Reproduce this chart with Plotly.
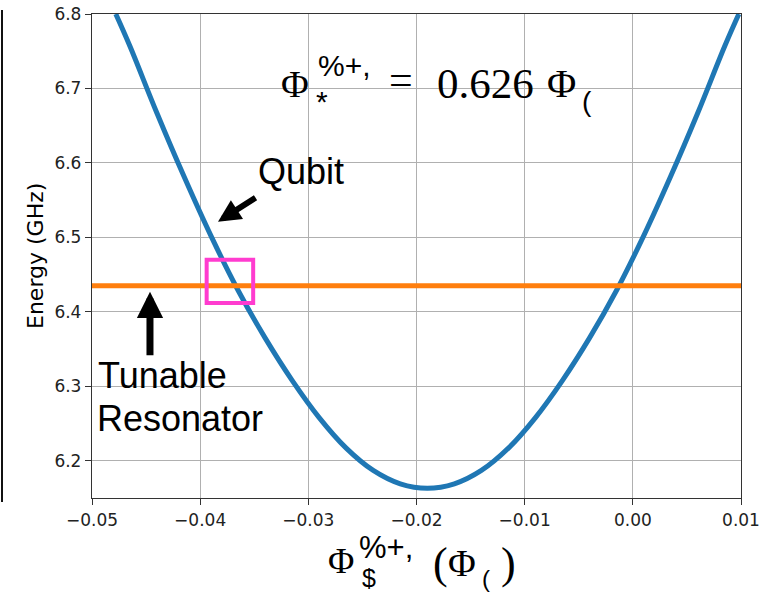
import plotly.graph_objects as go

# ---- data ----
flux = [-0.0478, -0.0465, -0.0440, -0.0415, -0.0390, -0.0365, -0.0340, -0.0315, -0.0290,
        -0.0265, -0.0240, -0.0215, -0.0190, -0.0165, -0.0140, -0.0115, -0.0090, -0.0065,
        -0.0040, -0.0015, 0.0010, 0.0035, 0.0060, 0.0085, 0.0098]
qubit_energy = [6.800, 6.757, 6.667, 6.582, 6.502, 6.429, 6.365, 6.308, 6.258,
                6.217, 6.187, 6.169, 6.163, 6.169, 6.187, 6.217, 6.258, 6.308,
                6.365, 6.429, 6.502, 6.582, 6.667, 6.757, 6.800]
resonator_flux = [-0.05, 0.01]
resonator_energy = [6.435, 6.435]
x_ticks = [-0.05, -0.04, -0.03, -0.02, -0.01, 0.00, 0.01]
y_ticks = [6.2, 6.3, 6.4, 6.5, 6.6, 6.7, 6.8]
crossing_box = dict(x0=-0.0394, x1=-0.0351, y0=6.412, y1=6.470)

W, H = 762, 594
L, R, T, B = 92, 741, 14, 498


def P(px, py):
    return (px - L) / (R - L), (B - py) / (B - T)


fig = go.Figure()
fig.add_trace(go.Scatter(x=flux, y=qubit_energy, mode="lines",
                         line=dict(color="#1f77b4", width=5, shape="spline", smoothing=1),
                         showlegend=False))
fig.add_trace(go.Scatter(x=resonator_flux, y=resonator_energy, mode="lines",
                         line=dict(color="#ff7f0e", width=5), showlegend=False))

fig.add_shape(type="rect", xref="x", yref="y", **crossing_box,
              line=dict(color="#ff3ccf", width=4))
# left border line of the slide
x0p, y0p = P(2, 10)
_, y1p = P(2, 502)
fig.add_shape(type="line", xref="paper", yref="paper", x0=x0p, x1=x0p, y0=y0p, y1=y1p,
              line=dict(color="#111", width=2))

ann = []


def txt(s, px, py, size, family, xanchor="center", angle=0):
    x, y = P(px, py)
    ann.append(dict(text=s, x=x, y=y, xref="paper", yref="paper", showarrow=False,
                    xanchor=xanchor, yanchor="middle", textangle=angle,
                    font=dict(size=size, family=family, color="black")))


SERIF = "Liberation Serif"
SANS = "Liberation Sans"
# top formula
txt("Φ", 295, 84, 38, SERIF)
txt("%+,", 316, 66, 30, SANS, xanchor="left")
txt("*", 322, 101, 30, SANS)
txt("=", 401, 80, 42, SERIF)
txt("0.626", 485, 83, 43, SERIF)
txt("Φ", 561, 83, 40, SERIF)
txt("(", 587, 101, 28, SANS)
# x-axis title
txt("Φ", 341, 561, 36, SERIF)
txt("%+,", 357, 547, 31, SANS, xanchor="left")
txt("$", 369, 578, 25, SANS)
txt("(", 440, 563, 44, SERIF)
txt("Φ", 462, 563, 38, SERIF)
txt("(", 486, 578, 24, SANS)
txt(")", 508, 563, 44, SERIF)
# y-axis title
txt("Energy (GHz)", 35, 256, 22, "DejaVu Sans", angle=-90)
# labels
txt("Qubit", 301, 171, 36, SANS)
txt("Tunable", 96, 375, 36, SANS, xanchor="left")
txt("Resonator", 95, 418, 36, SANS, xanchor="left")

# arrows
ann.append(dict(x=-0.03835, y=6.521, xref="x", yref="y", ax=39, ay=-25, text="",
                showarrow=True, arrowhead=2, arrowsize=0.75, arrowwidth=6, arrowcolor="black"))
ann.append(dict(x=-0.04464, y=6.427, xref="x", yref="y", ax=0, ay=65, text="",
                showarrow=True, arrowhead=2, arrowsize=0.75, arrowwidth=7, arrowcolor="black"))

axis_common = dict(showline=True, mirror=True, linecolor="#333", linewidth=1.3,
                   ticks="outside", ticklen=6, tickcolor="#333", showgrid=True,
                   gridcolor="#b0b0b0", gridwidth=1, zeroline=False, automargin=False,
                   tickfont=dict(family="DejaVu Sans", size=17, color="#222"))

fig.update_layout(
    width=W, height=H,
    margin=dict(l=L, r=W - R, t=T, b=H - B),
    paper_bgcolor="white", plot_bgcolor="white",
    xaxis=dict(range=[-0.05, 0.01], tickvals=x_ticks, tickformat=".2f", **axis_common),
    yaxis=dict(range=[6.15, 6.8], tickvals=y_ticks, tickformat=".1f", **axis_common),
    annotations=ann,
)

fig.write_html("out.html")
